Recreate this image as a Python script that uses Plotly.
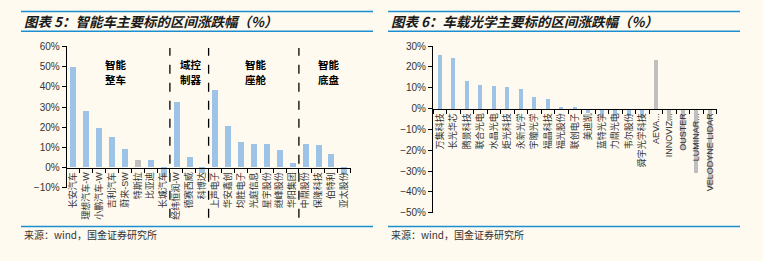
import plotly.graph_objects as go

W, H = 763, 261

# ---- data: chart 5 ----
cats5 = ["长安汽车", "理想汽车-W", "小鹏汽车-W", "吉利汽车", "蔚来-SW", "特斯拉", "比亚迪", "长城汽车",
         "经纬恒润-W", "德赛西威", "科博达",
         "上声电子", "华安鑫创", "均胜电子", "光庭信息", "星宇股份", "继峰股份", "华阳集团",
         "中鼎股份", "保隆科技", "伯特利", "亚太股份"]
vals5 = [49.5, 28.0, 19.6, 15.0, 9.1, 3.5, 3.5, -4.3,
         32.3, 4.9, -3.0,
         38.0, 20.5, 12.5, 11.5, 11.5, 8.7, 2.0,
         11.5, 11.0, 6.5, -4.0]
gray5 = ["特斯拉"]
groups5 = [("智能", "整车"), ("域控", "制器"), ("智能", "座舱"), ("智能", "底盘")]
group_x5 = [3.3, 9.1, 14.2, 19.8]
dividers5 = [7.5, 10.5, 17.5]

# ---- data: chart 6 ----
cats6 = ["万集科技", "长光华芯", "腾景科技", "联合光电", "水晶光电", "炬光科技", "永新光学", "宇瞳光学",
         "福晶科技", "福光股份", "联创电子", "美迪凯", "蓝特光学", "力鼎光电", "韦尔股份", "舜宇光学科技",
         "AEVA...", "INNOVIZ...", "OUSTER", "LUMINAR...", "VELODYNE LIDAR"]
vals6 = [25.7, 24.4, 13.4, 11.5, 10.7, 10.1, 9.2, 5.5,
         4.6, 0.8, 0.8, -2.2, -4.0, -3.7, -3.7, -4.4,
         23.5, -6.0, -20.0, -31.0, -38.0]
gray6 = ["AEVA...", "INNOVIZ...", "OUSTER", "LUMINAR...", "VELODYNE LIDAR"]

BLUE = "#9DC3E6"
GRAY = "#BFBFBF"
BG = "#FEFAF0"
LINE_BLUE = "#1C8FD0"
FONT = "Noto Sans CJK SC"
MIXED = "Liberation Sans, Noto Sans CJK SC"

fig = go.Figure()
fig.add_trace(go.Bar(x=cats5, y=vals5, width=0.47,
                     marker=dict(color=[GRAY if c in gray5 else BLUE for c in cats5], line_width=0),
                     xaxis="x", yaxis="y", showlegend=False))
fig.add_trace(go.Bar(x=cats6, y=vals6, width=0.3,
                     marker=dict(color=[GRAY if c in gray6 else BLUE for c in cats6], line_width=0),
                     xaxis="x2", yaxis="y2", showlegend=False))

def px_x(p):
    return p / W

def px_y(p):
    return 1 - p / H

xd1 = [px_x(66.7), px_x(350.5)]
yd1 = [px_y(190.5), px_y(42.4)]
xd2 = [px_x(433), px_x(716.7)]
yd2 = [px_y(216.7), px_y(42)]

zero1 = yd1[0] + (yd1[1] - yd1[0]) * (10 / 70)
zero2 = yd2[0] + (yd2[1] - yd2[0]) * (50 / 80)

tickfont_cat = dict(family=MIXED, size=9, color="#333333")
yfont = dict(family="Liberation Sans, Arial", size=10, color="#333333")

common_x = dict(type="category", showline=True, linecolor="black", linewidth=1,
                ticks="outside", ticklen=4, tickcolor="black", tickson="boundaries",
                tickangle=-90, tickfont=tickfont_cat, showgrid=False, zeroline=False,
                anchor="free")
common_y = dict(showline=True, linecolor="black", linewidth=1, ticks="outside", ticklen=4,
                tickcolor="black", dtick=10, ticksuffix="%", tickfont=yfont, showgrid=False,
                zeroline=False)

fig.update_layout(
    width=W, height=H,
    margin=dict(l=0, r=0, t=0, b=0),
    paper_bgcolor=BG, plot_bgcolor="rgba(0,0,0,0)",
    bargap=0,
    xaxis=dict(domain=xd1, range=[-0.5, len(cats5) - 0.5], position=zero1, **common_x),
    yaxis=dict(domain=yd1, range=[-10, 60], anchor="x", **common_y),
    xaxis2=dict(domain=xd2, range=[-0.5, len(cats6) - 0.5], position=zero2, **common_x),
    yaxis2=dict(domain=yd2, range=[-50, 30], anchor="x2", **common_y),
)

shapes = []
annotations = []

for x0, x1 in [(21, 373), (388, 740)]:
    for yy in [5.7, 26.5, 231]:
        shapes.append(dict(type="line", xref="paper", yref="paper",
                           x0=px_x(x0), x1=px_x(x1), y0=px_y(yy), y1=px_y(yy),
                           line=dict(color=LINE_BLUE, width=1.5)))

for dx in dividers5:
    shapes.append(dict(type="line", xref="x", yref="paper", x0=dx, x1=dx,
                       y0=px_y(222), y1=px_y(44),
                       line=dict(color="black", width=1.3, dash="dash")))

for (l1, l2), gx in zip(groups5, group_x5):
    for txt, yy in [(l1, 61.5), (l2, 77.5)]:
        annotations.append(dict(x=gx, y=px_y(yy), xref="x", yref="paper", text="<b>" + txt + "</b>",
                                showarrow=False, yanchor="middle",
                                font=dict(family=FONT, size=10.5, color="black")))

titles = [("图表 5：智能车主要标的区间涨跌幅（%）", 22), ("图表 6：车载光学主要标的区间涨跌幅（%）", 389)]
for t, x in titles:
    annotations.append(dict(x=px_x(x), y=px_y(16), xref="paper", yref="paper", xanchor="left",
                            yanchor="middle", text="<b><i>" + t + "</i></b>", showarrow=False,
                            font=dict(family=FONT, size=13.5, color="#1a1a1a")))

for x in [22, 389]:
    annotations.append(dict(x=px_x(x), y=px_y(240), xref="paper", yref="paper", xanchor="left",
                            yanchor="middle", text="来源：wind，国金证券研究所", showarrow=False,
                            font=dict(family=FONT, size=10, color="#333333")))

fig.update_layout(shapes=shapes, annotations=annotations)
fig.write_html("out.html")
